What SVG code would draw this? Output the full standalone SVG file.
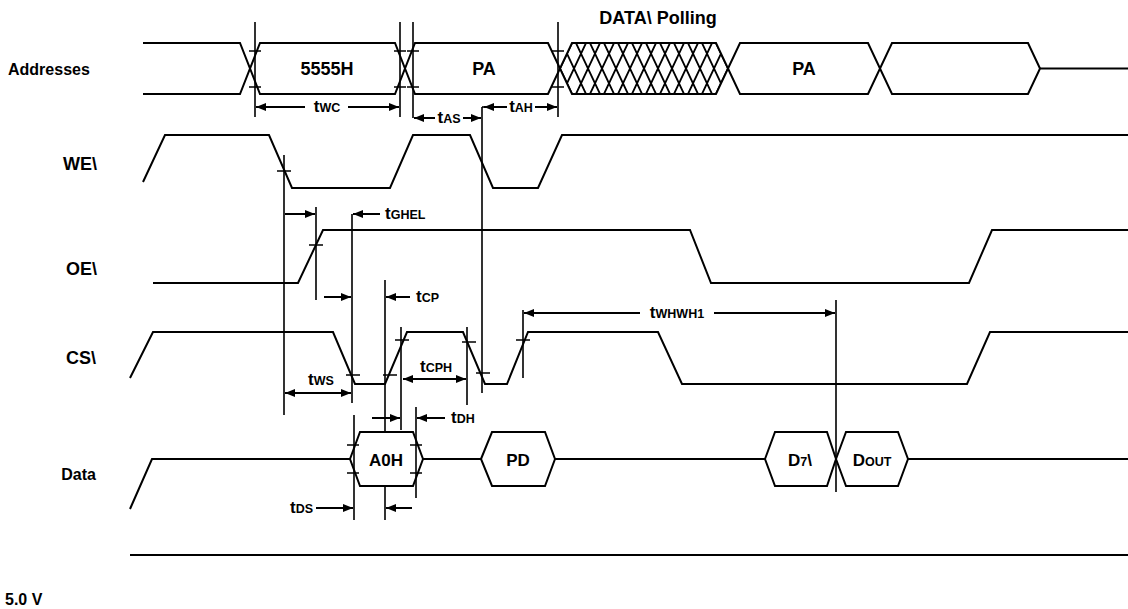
<svg xmlns="http://www.w3.org/2000/svg" width="1128" height="609" viewBox="0 0 1128 609">
<defs>
<marker id="ah" viewBox="0 0 10 8" refX="10" refY="4" markerWidth="10" markerHeight="8" markerUnits="userSpaceOnUse" orient="auto-start-reverse"><path d="M0,0 L10,4 L0,8 z" fill="#000"/></marker>
<clipPath id="hclip"><polygon points="560,68.5 572,43 716,43 728,68.5 716,94 572,94"/></clipPath>
<style>
.sig{fill:none;stroke:#000;stroke-width:2;stroke-linejoin:miter}
.bub{fill:#fff;stroke:#000;stroke-width:2}
.vl{stroke:#000;stroke-width:1.6;fill:none}
.tk{stroke:#000;stroke-width:1.6}
.ar{stroke:#000;stroke-width:2;fill:none;marker-end:url(#ah)}
.ar2{stroke:#000;stroke-width:2;fill:none;marker-end:url(#ah);marker-start:url(#ah)}
text{font-family:"Liberation Sans",Arial,Helvetica,sans-serif;font-weight:bold;fill:#000}
.lbl{font-size:16px}
.lbl2{font-size:18px}
.big{font-size:18px}
.t{font-size:17px}
.s{font-size:12.5px}
</style>
</defs>
<rect width="1128" height="609" fill="#fff"/>

<g id="labels">
<text class="lbl" x="8" y="75">Addresses</text>
<text class="lbl2" x="97" y="170" text-anchor="end">WE\</text>
<text class="lbl2" x="97" y="275" text-anchor="end">OE\</text>
<text class="lbl2" x="96" y="364" text-anchor="end">CS\</text>
<text class="lbl" x="96" y="480" text-anchor="end">Data</text>
<text class="lbl" x="5" y="605">5.0 V</text>
<text class="big" x="658" y="24" text-anchor="middle">DATA\ Polling</text>
</g>

<g id="addresses">
<g clip-path="url(#hclip)" stroke="#000" stroke-width="1.8">
<path d="M534,43 l24,51 M548,43 l24,51 M562,43 l24,51 M576,43 l24,51 M590,43 l24,51 M604,43 l24,51 M618,43 l24,51 M632,43 l24,51 M646,43 l24,51 M660,43 l24,51 M674,43 l24,51 M688,43 l24,51 M702,43 l24,51 M716,43 l24,51"/>
<path d="M548,94 l24,-51 M562,94 l24,-51 M576,94 l24,-51 M590,94 l24,-51 M604,94 l24,-51 M618,94 l24,-51 M632,94 l24,-51 M646,94 l24,-51 M660,94 l24,-51 M674,94 l24,-51 M688,94 l24,-51 M702,94 l24,-51 M716,94 l24,-51"/>
</g>
<path class="sig" d="M143,43 H240 L260,94 H395 L415,43 H548 L572,94 H716 L740,43 H868 L892,94 H1028 L1040,68.5 H1128"/>
<path class="sig" d="M143,94 H240 L260,43 H395 L415,94 H548 L572,43 H716 L740,94 H868 L892,43 H1028 L1040,68.5"/>
<text class="big" x="327" y="75" text-anchor="middle">5555H</text>
<text class="big" x="484" y="75" text-anchor="middle">PA</text>
<text class="big" x="804" y="75" text-anchor="middle">PA</text>
</g>

<g id="we">
<path class="sig" d="M143,182 L165,135 H269 L292,188 H390 L413,135 H470 L493,188 H538 L562,135 H1128"/>
</g>

<g id="oe">
<path class="sig" d="M153,283 H298 L323,230 H690 L711,283 H969 L992,230 H1128"/>
</g>

<g id="cs">
<path class="sig" d="M130,378 L153,332 H333 L355,384 H385 L407,332 H463 L485,384 H507 L528,332 H658 L682,384 H967 L990,332 H1128"/>
</g>

<g id="data">
<path class="sig" d="M130,509 L152,459 H350 M423,459 H481 M555,459 H765 M908,459 H1128"/>
<polygon class="bub" points="350,459 360,432 413,432 423,459 413,486 360,486"/>
<polygon class="bub" points="481,459 492,432 545,432 555,459 545,486 492,486"/>
<polygon class="bub" points="765,459 775,432 827,432 836,459 827,486 775,486"/>
<polygon class="bub" points="836,459 846,432 898,432 908,459 898,486 846,486"/>
<text class="t" x="386" y="466" text-anchor="middle">A0H</text>
<text class="t" x="518" y="466" text-anchor="middle">PD</text>
<text class="t" x="800" y="466" text-anchor="middle">D<tspan class="s">7</tspan>\</text>
<text class="t" x="872" y="466" text-anchor="middle">D<tspan class="s">OUT</tspan></text>
</g>

<g id="supply">
<line class="sig" x1="130" y1="555" x2="1128" y2="555" stroke-width="2.5"/>
</g>

<g id="connectors">
<path class="vl" d="M255,22 V117 M400,22 V117 M413,22 V118 M558,22 V117 M482,107 V393 M284,155 V415 M316,207 V300 M352,214 V403 M354,415 V520 M385,280 V432 M385,486 V520 M401,327 V430 M416,407 V498 M467,327 V405 M523,310 V378 M836,300 V492"/>
<path class="tk" d="M249,51 h12 M249,87 h12 M394,51 h12 M394,87 h12 M407,51 h12 M407,87 h12 M552,51 h12 M552,87 h12 M277,171 h14 M309,245 h14 M346,375 h14 M383,375 h14 M395,340 h14 M462,342 h14 M476,373 h14 M516,340 h14 M347,445 h12 M347,473 h12 M410,445 h12 M410,473 h12"/>
<line class="ar" x1="305" y1="107" x2="256" y2="107"/>
<line class="ar" x1="348" y1="107" x2="399" y2="107"/>
<line class="ar" x1="435" y1="118" x2="414" y2="118"/>
<line class="ar" x1="463" y1="118" x2="481" y2="118"/>
<line class="ar" x1="507" y1="107" x2="484" y2="107"/>
<line class="vl" x1="482" y1="107" x2="486" y2="107" stroke-width="2"/>
<line class="ar" x1="535" y1="107" x2="557" y2="107"/>
<line class="ar" x1="285" y1="214" x2="315" y2="214"/>
<line class="ar" x1="380" y1="214" x2="353" y2="214"/>
<line class="ar" x1="324" y1="297" x2="351" y2="297"/>
<line class="ar" x1="410" y1="297" x2="386" y2="297"/>
<line class="ar" x1="640" y1="313" x2="524" y2="313"/>
<line class="ar" x1="714" y1="313" x2="835" y2="313"/>
<line class="ar2" x1="285" y1="393" x2="351" y2="393"/>
<line class="ar2" x1="403" y1="379" x2="466" y2="379"/>
<line class="ar" x1="372" y1="418" x2="400" y2="418"/>
<line class="ar" x1="445" y1="418" x2="417" y2="418"/>
<line class="ar" x1="316" y1="508" x2="353" y2="508"/>
<line class="ar" x1="412" y1="508" x2="386" y2="508"/>
</g>

<g id="timing-labels">
<text class="t" x="327" y="112" text-anchor="middle">t<tspan class="s">WC</tspan></text>
<text class="t" x="449" y="123" text-anchor="middle">t<tspan class="s">AS</tspan></text>
<text class="t" x="521" y="112" text-anchor="middle">t<tspan class="s">AH</tspan></text>
<text class="t" x="385" y="219">t<tspan class="s">GHEL</tspan></text>
<text class="t" x="416" y="302">t<tspan class="s">CP</tspan></text>
<text class="t" x="677" y="318" text-anchor="middle">t<tspan class="s">WHWH1</tspan></text>
<text class="t" x="321" y="385" text-anchor="middle">t<tspan class="s">WS</tspan></text>
<text class="t" x="436" y="372" text-anchor="middle">t<tspan class="s">CPH</tspan></text>
<text class="t" x="451" y="423">t<tspan class="s">DH</tspan></text>
<text class="t" x="313" y="513" text-anchor="end">t<tspan class="s">DS</tspan></text>
</g>
</svg>
